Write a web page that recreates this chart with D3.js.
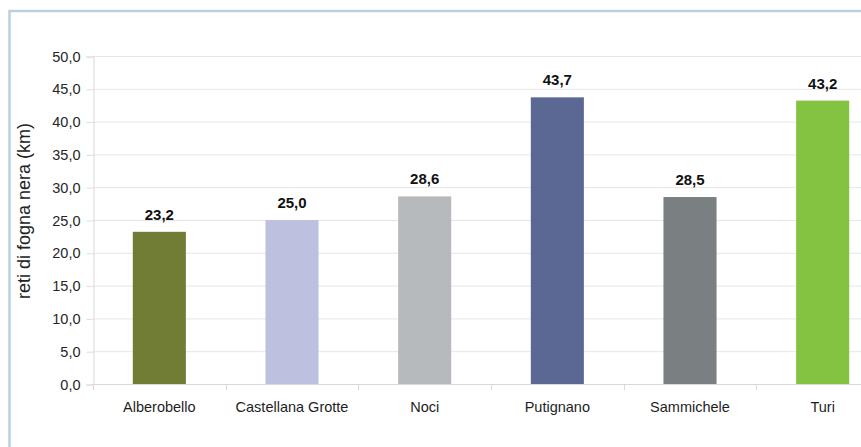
<!DOCTYPE html>
<html>
<head>
<meta charset="utf-8">
<script src="https://cdn.jsdelivr.net/npm/d3@7"></script>
<style>
  html, body { margin: 0; padding: 0; background: #ffffff; overflow: hidden; }
  svg { display: block; overflow: hidden; font-family: "Liberation Sans", Arial, sans-serif; }
</style>
</head>
<body>
<svg id="chart" width="861" height="447"></svg>
<script>
// Comuni and length of black-water sewer network (km)
const comuni = ["Alberobello", "Castellana Grotte", "Noci", "Putignano", "Sammichele", "Turi"];
const kmRete = [23.2, 25.0, 28.6, 43.7, 28.5, 43.2];
const colori = ["#717c34", "#bec0e0", "#b6babc", "#5b6894", "#7a7f81", "#83c341"];
const yTicks = [0, 5, 10, 15, 20, 25, 30, 35, 40, 45, 50];
const yTitle = "reti di fogna nera (km)";

const svg = d3.select("#chart");
const W = 861, H = 447;

// outer frame (light blue), running off the right and bottom edges
svg.append("path")
  .attr("d", `M9.5,${H + 5} V11 H${W + 5}`)
  .attr("fill", "none")
  .attr("stroke", "#b9d0e2").attr("stroke-width", 2.5);

const plot = { left: 93, right: 889, top: 56, bottom: 384 };
const fmt = v => v.toFixed(1).replace(".", ",");

const x = d3.scaleBand().domain(comuni).range([plot.left, plot.right]).paddingInner(0.6).paddingOuter(0.3);
const y = d3.scaleLinear().domain([0, 50]).range([plot.bottom, plot.top]);

// horizontal gridlines
svg.append("g").selectAll("line").data(yTicks.filter(t => t > 0)).join("line")
  .attr("x1", plot.left).attr("x2", W)
  .attr("y1", d => y(d) + 0.5).attr("y2", d => y(d) + 0.5)
  .attr("stroke", "#e6e6e6").attr("stroke-width", 1);

// y axis
const yAxis = svg.append("g")
  .attr("transform", `translate(${plot.left + 0.5},0.5)`)
  .call(d3.axisLeft(y).tickValues(yTicks).tickFormat(fmt).tickSize(7).tickPadding(6));
yAxis.select(".domain").attr("stroke", "#d9d9d9");
yAxis.selectAll(".tick line").attr("stroke", "#dedede");
yAxis.selectAll(".tick text")
  .attr("font-size", 14.5).attr("fill", "#262626")
  .attr("font-family", "'Liberation Sans', Arial, sans-serif");

// x axis with separators between categories
const bounds = d3.range(comuni.length + 1).map(i => plot.left + i * (plot.right - plot.left) / comuni.length);
svg.append("line")
  .attr("x1", plot.left).attr("x2", W)
  .attr("y1", plot.bottom + 0.5).attr("y2", plot.bottom + 0.5)
  .attr("stroke", "#d9d9d9");
svg.append("g").selectAll("line").data(bounds).join("line")
  .attr("x1", d => Math.round(d) + 0.5).attr("x2", d => Math.round(d) + 0.5)
  .attr("y1", plot.bottom).attr("y2", plot.bottom + 6)
  .attr("stroke", "#d9d9d9");

// category labels
svg.append("g").selectAll("text").data(comuni).join("text")
  .attr("x", d => x(d) + x.bandwidth() / 2)
  .attr("y", 412)
  .attr("text-anchor", "middle")
  .attr("font-size", 14.5).attr("fill", "#1e1e1e")
  .text(d => d);

// bars
const data = comuni.map((c, i) => ({ c, v: kmRete[i], col: colori[i] }));
svg.append("g").selectAll("rect").data(data).join("rect")
  .attr("x", d => x(d.c))
  .attr("width", x.bandwidth())
  .attr("y", d => y(d.v))
  .attr("height", d => y(0) - y(d.v))
  .attr("fill", d => d.col);

// value labels
svg.append("g").selectAll("text").data(data).join("text")
  .attr("x", d => x(d.c) + x.bandwidth() / 2)
  .attr("y", d => y(d.v) - 12)
  .attr("text-anchor", "middle")
  .attr("font-size", 15).attr("font-weight", "bold").attr("fill", "#111111")
  .text(d => fmt(d.v));

// y axis title
svg.append("text")
  .attr("transform", `translate(30,211) rotate(-90)`)
  .attr("text-anchor", "middle")
  .attr("font-size", 18).attr("fill", "#222222")
  .text(yTitle);
</script>
</body>
</html>
